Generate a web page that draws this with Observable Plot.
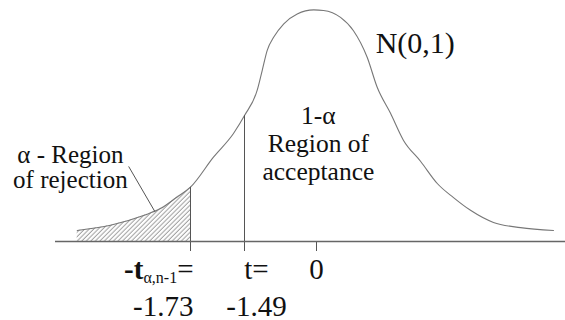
<!DOCTYPE html>
<html>
<head>
<meta charset="utf-8">
<script src="https://cdn.jsdelivr.net/npm/d3@7"></script>
<script src="https://cdn.jsdelivr.net/npm/@observablehq/plot@0.6"></script>
<style>
  body { margin: 0; background: #fff; }
  svg text { font-family: "Liberation Serif", serif; }
</style>
</head>
<body>
<div id="chart"></div>
<script>
// Sketch of the N(0,1) density: x in t units, y = density
const curveT = [-3.635, -3.075, -2.52, -2.234, -1.954, -1.73, -1.628, -1.539, -1.49, -1.227, -1.124, -1.02,
  -0.884, -0.677, -0.399, -0.056, 0.112, 0.386, 0.594, 0.814, 0.975, 1.189, 1.398, 1.671, 1.944, 2.201,
  2.474, 2.843, 3.277, 3.807];
const curveDensity = [0.019, 0.028, 0.045, 0.057, 0.077, 0.094, 0.146, 0.187, 0.218, 0.262, 0.296, 0.331,
  0.354, 0.377, 0.394, 0.401, 0.400, 0.388, 0.365, 0.319, 0.267, 0.222, 0.175, 0.139, 0.100, 0.076,
  0.054, 0.033, 0.024, 0.019];

// Marked points on the t axis: critical value and observed statistic
const tickT = [-1.73, -1.49, 0];
const tickNames = ["-tα,n-1=", "t=", "0"];
const tickValueText = tickT.map(v => (v === 0 ? "" : String(v)));
const criticalDensity = [0.094, 0.218];

// Region annotations
const regionText = ["α - Region\nof rejection", "1-α\nRegion of\nacceptance"];
const regionT = [-3.75, 0.03];
const regionDensity = [0.092, 0.106];
const curveName = "N(0,1)";
const curveNameT = [0.95];
const curveNameDensity = [0.327];
const leaderT = [-2.77, -2.33];
const leaderDensity = [0.13, 0.052];

const curve = curveT.map((t, i) => ({t, d: curveDensity[i]}));
const tail = curve.filter(p => p.t <= tickT[0]);
const critical = tickT.slice(0, 2).map((t, i) => ({t, d: criticalDensity[i]}));
const ticks = tickT.map((t, i) => ({t, name: tickNames[i], value: tickValueText[i]}));
const regions = regionText.map((text, i) => ({text, t: regionT[i], d: regionDensity[i]}));
const names = [{text: curveName, t: curveNameT[0], d: curveNameDensity[0]}];
const leader = [{t1: leaderT[0], d1: leaderDensity[0], t2: leaderT[1], d2: leaderDensity[1]}];

const ink = "#111";
const serif = "Liberation Serif";

const tickLabel = (row, opts) => [
  Plot.text(row, {x: "t", text: "name", frameAnchor: "bottom", lineAnchor: "bottom", dy: 37,
    fontSize: 29, fill: ink, fontFamily: serif, ...opts}),
  Plot.text(row, {x: "t", text: "value", frameAnchor: "bottom", lineAnchor: "bottom", dy: 74,
    fontSize: 29, fill: ink, fontFamily: serif, ...opts})
];

const svg = Plot.plot({
  width: 565,
  height: 320,
  marginLeft: 55,
  marginRight: 0,
  marginTop: 10,
  marginBottom: 79,
  style: {fontFamily: serif, background: "#fff", color: "#555"},
  x: {
    // schematic (piecewise linear) t axis
    type: "linear",
    domain: [-4, -1.73, -1.49, 0, 4],
    range: [55, 190, 244, 316, 565],
    ticks: tickT,
    tickSize: 10,
    tickFormat: () => "",
    label: null
  },
  y: {domain: [0, 0.4], axis: null},
  marks: [
    Plot.areaY(tail, {x: "t", y: "d", fill: "url(#hatch)", curve: "monotone-x"}),
    Plot.ruleY([0], {stroke: "#666", strokeWidth: 1.6}),
    Plot.line(curve, {x: "t", y: "d", stroke: "#777", strokeWidth: 1.1, curve: "monotone-x"}),
    Plot.ruleX(critical, {x: "t", y1: 0, y2: "d", stroke: "#555", strokeWidth: 1}),
    Plot.link(leader, {x1: "t1", y1: "d1", x2: "t2", y2: "d2", stroke: "#555", strokeWidth: 1}),
    Plot.text(regions.slice(0, 1), {x: "t", y: "d", text: "text", lineAnchor: "bottom",
      lineHeight: 1.0, fontSize: 25, fill: ink, fontFamily: serif}),
    Plot.text(regions.slice(1), {x: "t", y: "d", text: "text", lineAnchor: "bottom",
      lineHeight: 1.1, fontSize: 25.5, fill: ink, fontFamily: serif}),
    Plot.text(names, {x: "t", y: "d", text: "text", textAnchor: "start", lineAnchor: "bottom",
      fontSize: 30, fill: ink, fontFamily: serif}),
    ...tickLabel(ticks.slice(0, 1), {textAnchor: "end", dx: 3}),
    ...tickLabel(ticks.slice(1, 2), {dx: 12}),
    ...tickLabel(ticks.slice(2), {})
  ]
});

// hatch pattern for the rejection tail
const root = d3.select(svg);
const defs = root.insert("defs", ":first-child");
const pat = defs.append("pattern")
  .attr("id", "hatch")
  .attr("patternUnits", "userSpaceOnUse")
  .attr("width", 3.2)
  .attr("height", 10)
  .attr("patternTransform", "rotate(45)");
pat.append("line")
  .attr("x1", 1).attr("y1", 0).attr("x2", 1).attr("y2", 10)
  .attr("stroke", "#777").attr("stroke-width", 0.8);

// -t with its α,n-1 subscript
root.selectAll("text").filter(function () { return this.textContent === tickNames[0]; })
  .each(function () {
    const t = d3.select(this);
    t.text(null);
    t.append("tspan").attr("font-weight", "bold").text("-t");
    t.append("tspan").attr("font-size", 16).attr("dy", 4).text("α,n-1");
    t.append("tspan").attr("dy", -4).text("=");
  });

document.getElementById("chart").append(svg);
</script>
</body>
</html>
